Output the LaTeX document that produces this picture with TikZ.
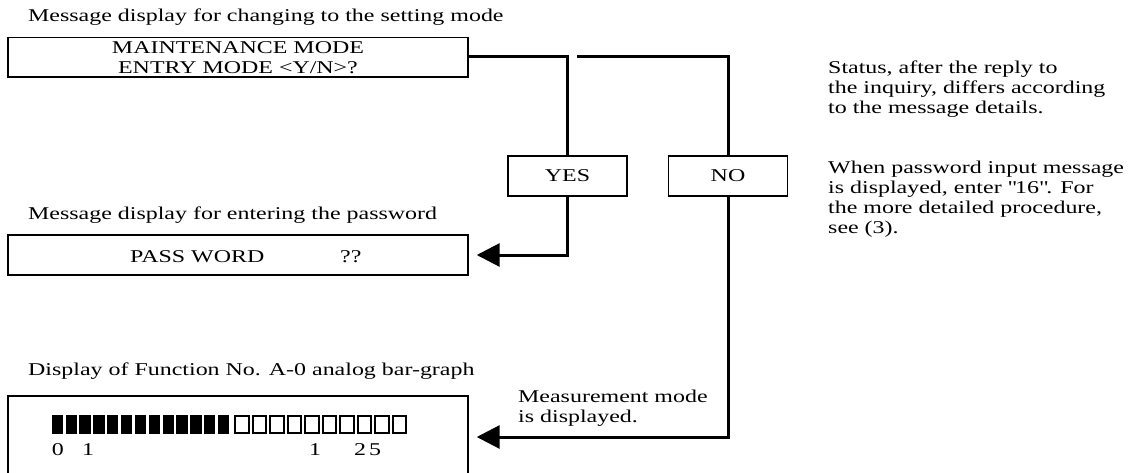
\documentclass[tikz,border=0pt]{standalone}
\usepackage{fontspec}
\setmainfont[FakeStretch=1.33]{Liberation Serif}
\usetikzlibrary{arrows.meta}
\begin{document}
\begin{tikzpicture}[x=1pt,y=-1pt,
  font=\fontsize{18}{20}\selectfont,
  disp/.style={draw,line width=1.4pt,inner sep=0pt,minimum width=460pt,align=center},
  ans/.style={draw,line width=1.4pt,inner sep=0pt,minimum width=119pt,minimum height=40pt},
  conn/.style={line width=3pt},
  arr/.style={line width=3pt,-{Triangle[length=23pt,width=23pt]},shorten >=8pt},
  lbl/.style={anchor=base west,inner sep=0pt},
  note/.style={anchor=north west,inner sep=0pt,align=left},
  empty/.style={draw,line width=2pt}]
\useasboundingbox (0,0) rectangle (1135,473);
% labels
\node[lbl] (t1) at (28,21.7) {Message display for changing to the setting mode};
\node[lbl] (t2) at (28,219.3) {Message display for entering the password};
\node[lbl] (t3) at (28,375) {Display of Function No. A-0 analog bar-graph};
% displays
\node[disp,minimum height=39.5pt] (box1) at (238,57.3) {MAINTENANCE MODE\\ENTRY MODE {<}Y/N{>}?};
\node[disp,minimum height=40pt] (box2) at (238,255) {};
\node[lbl] (pw) at (130,262.3) {PASS WORD};
\node[lbl] (qq) at (340,262.3) {??};
\node[disp,minimum height=82pt] (box3) at (238,437) {};
% bar graph
\foreach \i in {0,...,12}{
  \fill (51.7+\i*13.85,415) rectangle ++(11.3,19);
}
\foreach \i in {0,...,9}{
  \draw[empty] (235.3+\i*17.5,416) rectangle ++(13.5,17);
}
\node[lbl] (n0) at (51.7,455) {0};
\node[lbl] (n1) at (82,455) {1};
\node[lbl] (n2) at (309,455) {1};
\node[lbl] (n3) at (354,455) {2};
\node[lbl] (n4) at (369,455) {5};
% answers
\node[ans] (yes) at (567.5,176) {YES};
\node[ans] (no) at (728,176) {NO};
\coordinate (split) at (577,56.5);
\draw[conn] (box1.east |- split) -| (yes.north);
\draw[conn] (split) -| (no.north);
\draw[arr] (yes.south) |- (box2.east);
\draw[arr] (no.south) |- (box3.east);
\node[note] (meas) at (518,389.4) {Measurement mode\\is displayed.};
% notes
\node[note] (status) at (828,61) {Status, after the reply to\\the inquiry, differs according\\to the message details.};
\node[note] (pwnote) at (828,161) {When password input message\\is displayed, enter \textquotedbl16\textquotedbl. For\\the more detailed procedure,\\see (3).};
\end{tikzpicture}
\end{document}
